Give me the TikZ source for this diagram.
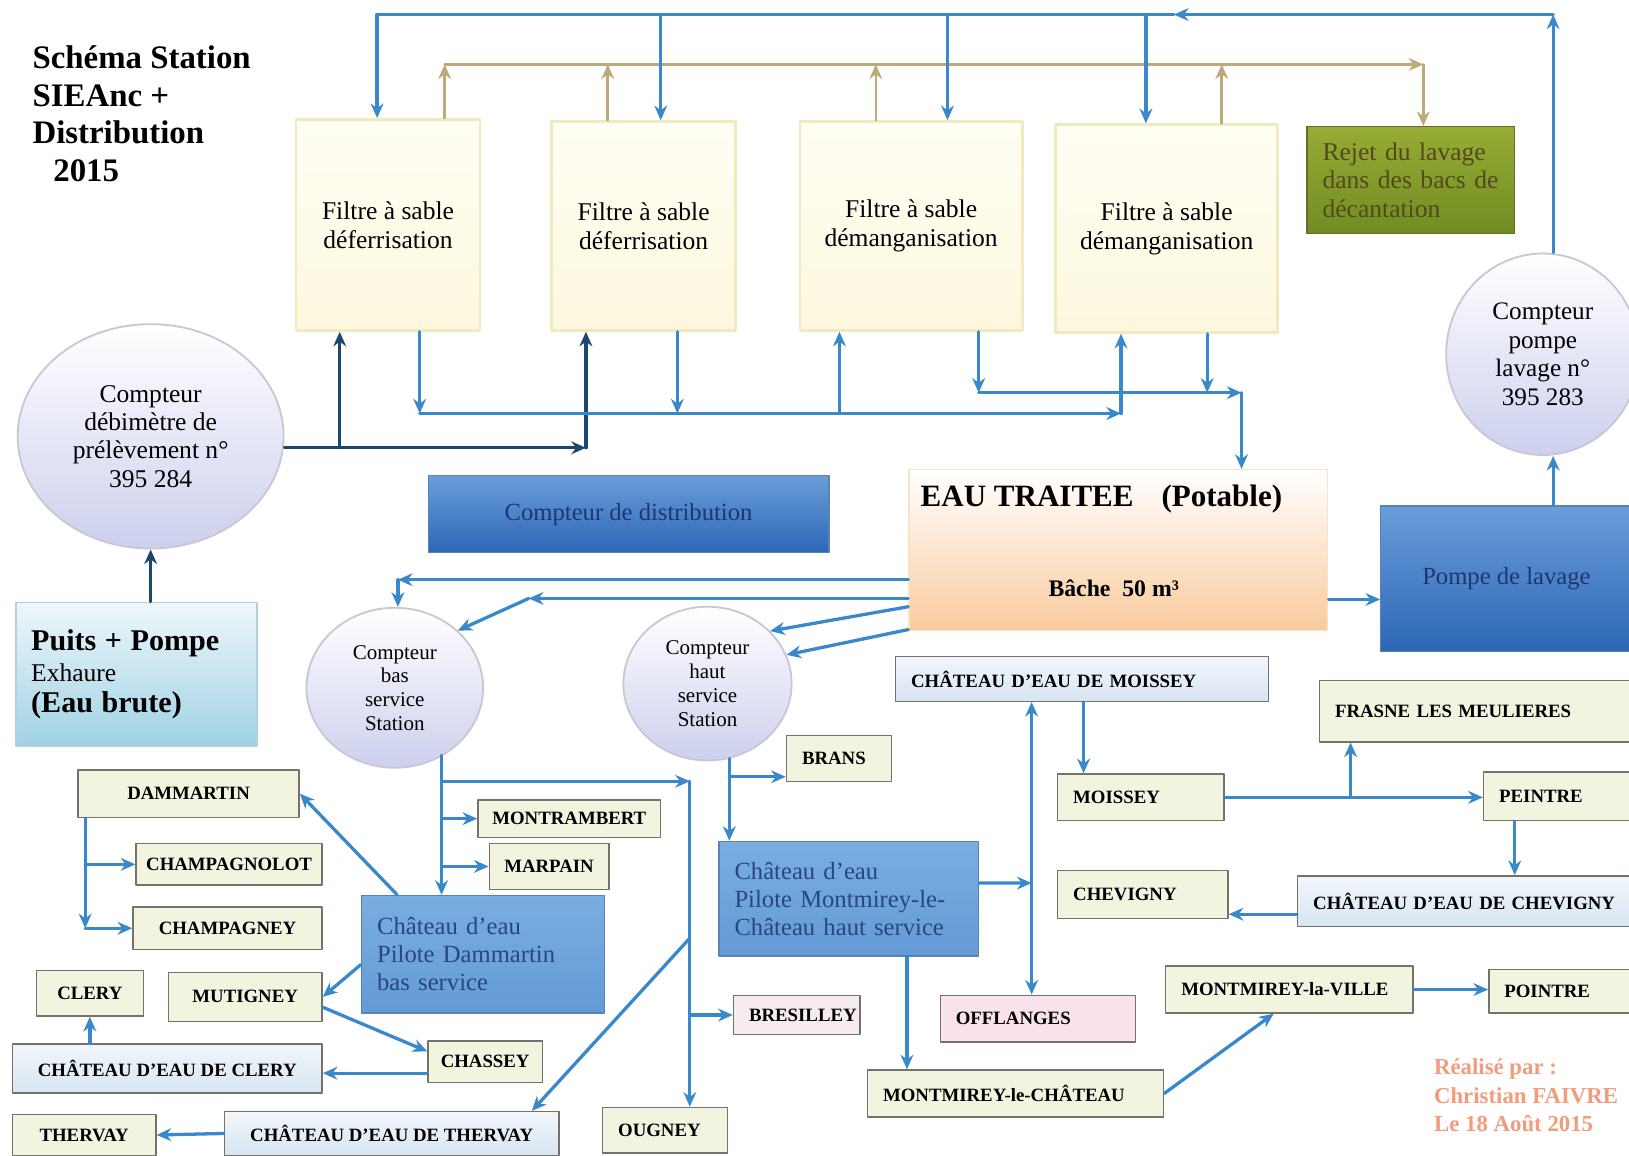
\documentclass[tikz,border=0pt]{standalone}
\usepackage{fontspec}
\setmainfont{Liberation Serif}
\usetikzlibrary{arrows.meta,shapes.geometric}

\begin{document}
\begin{tikzpicture}[x=0.02cm, y=-0.02cm, line cap=round, line join=round,
  >={Stealth[length=8pt,width=7pt]},
  pipe/.style={draw=pipeBlue, line width=1.8pt},
  raw/.style={draw=rawNavy, line width=1.8pt},
  wash/.style={draw=washTan, line width=1.4pt},
  gauche/.style={align=left, inner xsep=0.3cm, text width=#1},
  filtre/.style={draw=filtreBorder, line width=1.5pt, top color=filtreTop, bottom color=filtreBottom,
    align=center, font=\fontsize{14}{16}\selectfont},
  rejet/.style={draw=rejetBorder, line width=0.8pt, top color=rejetTop, bottom color=rejetBottom,
    inner sep=0pt, text=rejetText, font=\fontsize{14}{15.6}\selectfont},
  compteur/.style={ellipse, draw=compteurBorder, line width=1pt, top color=white, bottom color=compteurBottom,
    align=center, inner sep=1pt, font=\fontsize{14}{15.5}\selectfont},
  village/.style={draw=boxBorder, line width=0.8pt, fill=villageFill, inner sep=0pt,
    font=\fontsize{10.3}{12}\selectfont\bfseries},
  chateau/.style={village, top color=chateauTop, bottom color=chateauBottom},
  rose/.style={village, fill=roseFill},
  pilote/.style={draw=piloteBorder, line width=0.8pt, top color=piloteTop, bottom color=piloteBottom,
    inner sep=0pt, text=piloteText, font=\fontsize{13.5}{15.4}\selectfont},
  bleu/.style={draw=piloteBorder, line width=0.6pt, top color=bleuTop, bottom color=bleuBottom,
    text=bleuText, font=\fontsize{13.5}{15.5}\selectfont}]
% Colours of the station schema
\definecolor{pipeBlue}{RGB}{58,136,204}
\definecolor{rawNavy}{RGB}{28,72,112}
\definecolor{washTan}{RGB}{190,170,120}
\definecolor{filtreBorder}{RGB}{240,234,190}
\definecolor{filtreTop}{RGB}{255,254,244}
\definecolor{filtreBottom}{RGB}{252,248,222}
\definecolor{rejetBorder}{RGB}{100,110,40}
\definecolor{rejetTop}{RGB}{150,172,52}
\definecolor{rejetBottom}{RGB}{112,140,34}
\definecolor{rejetText}{RGB}{85,72,30}
\definecolor{compteurBorder}{RGB}{200,200,212}
\definecolor{compteurBottom}{RGB}{205,208,238}
\definecolor{boxBorder}{RGB}{115,115,105}
\definecolor{villageFill}{RGB}{243,244,224}
\definecolor{chateauTop}{RGB}{242,246,251}
\definecolor{chateauBottom}{RGB}{216,229,242}
\definecolor{roseFill}{RGB}{250,226,236}
\definecolor{bresFill}{RGB}{246,236,240}
\definecolor{piloteBorder}{RGB}{90,130,180}
\definecolor{piloteTop}{RGB}{120,174,224}
\definecolor{piloteBottom}{RGB}{100,155,215}
\definecolor{piloteText}{RGB}{40,70,130}
\definecolor{bleuTop}{RGB}{105,158,218}
\definecolor{bleuBottom}{RGB}{45,102,182}
\definecolor{bleuText}{RGB}{30,55,110}
\definecolor{puitsTop}{RGB}{238,247,251}
\definecolor{puitsBottom}{RGB}{160,210,228}
\definecolor{puitsBorder}{RGB}{175,210,225}
\definecolor{bacheBottom}{RGB}{249,203,158}
\definecolor{bacheBorder}{RGB}{245,228,200}
\definecolor{signColor}{RGB}{242,155,125}
\path[fill=white, use as bounding box] (0,0) rectangle (1568,1112);
% Title
\node[anchor=north west, inner sep=0pt, align=left, font=\fontsize{18}{20.5}\selectfont\bfseries] (titre) at (31,44)
  {Schéma Station\\SIEAnc +\\Distribution\\\hspace*{0.4cm}2015};
% Sand filters and wash discharge
\node[filtre, minimum width=3.54cm, minimum height=4.06cm] (f1) at (373.5,216.5) {Filtre à sable\\déferrisation};
\node[filtre, minimum width=3.54cm, minimum height=4.02cm] (f2) at (619.5,217.5) {Filtre à sable\\déferrisation};
\node[filtre, minimum width=4.28cm, minimum height=4.02cm] (f3) at (877,217.5) {Filtre à sable\\démanganisation};
\node[filtre, minimum width=4.28cm, minimum height=4.00cm] (f4) at (1123,220) {Filtre à sable\\démanganisation};
\node[rejet, gauche=3.4cm, minimum height=2.06cm] (rejet) at (1358,173.5) {Rejet du lavage\\dans des bacs de\\décantation};
% Counters
\node[compteur, minimum width=5.12cm, minimum height=4.32cm] (deb) at (145,420) {Compteur\\débimètre de\\prélèvement n°\\395 284};
\node[compteur, minimum width=3.72cm, minimum height=3.88cm, font=\fontsize{13.8}{15.8}\selectfont] (lav) at (1485,341) {Compteur\\pompe\\lavage n°\\395 283};
\node[compteur, minimum width=3.4cm, minimum height=3.08cm, font=\fontsize{11.5}{13}\selectfont] (cbas) at (380,662) {Compteur\\bas\\service\\Station};
\node[compteur, minimum width=3.24cm, minimum height=2.96cm, font=\fontsize{11.5}{13}\selectfont] (chaut) at (681,658) {Compteur\\haut\\service\\Station};
% Well, tank and pumps
\node[draw=puitsBorder, line width=1pt, top color=puitsTop, bottom color=puitsBottom, inner sep=0pt, gauche=4.04cm,
  minimum height=2.76cm, font=\fontsize{14}{17}\selectfont] (puits) at (131,649)
  {{\fontsize{16.5}{17}\selectfont\bfseries Puits + Pompe}\\Exhaure\\{\fontsize{16.5}{17}\selectfont\bfseries (Eau brute)}};
\node[bleu, minimum width=7.72cm, minimum height=1.48cm] (distrib) at (605,495) {Compteur de distribution};
\node[draw=bacheBorder, line width=0.8pt, top color=white, bottom color=bacheBottom, minimum width=8.06cm, minimum height=3.1cm] (eau) at (1076.5,529.5) {};
\node[anchor=west, font=\fontsize{17}{20}\selectfont\bfseries] (eautitre) at (880,480) {EAU TRAITEE\hspace{0.9em}(Potable)};
\node[font=\fontsize{13}{15}\selectfont\bfseries] (bachetxt) at (1072,566) {Bâche\hspace{0.5em}50 m³};
\node[bleu, minimum width=4.84cm, minimum height=2.8cm] (pompe) at (1450,557) {Pompe de lavage};
% Water towers and villages
\node[chateau, gauche=6.58cm, minimum height=0.86cm] (cmois) at (1041.5,653.5) {CHÂTEAU D'EAU DE MOISSEY};
\node[village, gauche=2.6cm, minimum height=0.9cm] (moissey) at (1098,767.5) {MOISSEY};
\node[village, gauche=5.5cm, minimum height=1.18cm] (frasne) at (1422.5,684.5) {FRASNE LES MEULIERES};
\node[village, gauche=2.34cm, minimum height=0.94cm] (peintre) at (1501.5,766.5) {PEINTRE};
\node[chateau, gauche=5.92cm, minimum height=0.98cm] (cchev) at (1412,867.5) {CHÂTEAU D'EAU DE CHEVIGNY};
\node[village, gauche=2.68cm, minimum height=0.92cm] (chevigny) at (1100,861) {CHEVIGNY};
\node[village, gauche=4.16cm, minimum height=0.9cm] (mlv) at (1241,952.5) {MONTMIREY-la-VILLE};
\node[village, gauche=2.24cm, minimum height=0.84cm] (pointre) at (1504,954) {POINTRE};
\node[rose, gauche=3.16cm, minimum height=0.9cm] (offl) at (999,980.5) {OFFLANGES};
\node[village, gauche=5.1cm, minimum height=0.9cm] (mlc) at (977.5,1052.5) {MONTMIREY-le-CHÂTEAU};
\node[pilote, gauche=4.4cm, minimum height=2.2cm] (pmont) at (817,865) {Château d'eau\\Pilote Montmirey-le-\\Château haut service};
\node[village, gauche=1.42cm, minimum height=0.88cm] (brans) at (807.5,730) {BRANS};
\node[rose, fill=bresFill, gauche=1.84cm, minimum height=0.76cm] (bres) at (767,977) {BRESILLEY};
\node[village, gauche=1.8cm, minimum height=0.88cm] (ougney) at (640,1088) {OUGNEY};
\node[village, minimum width=3.52cm, minimum height=0.72cm] (montr) at (548,788) {MONTRAMBERT};
\node[village, minimum width=2.3cm, minimum height=0.88cm] (marpain) at (528.5,834) {MARPAIN};
\node[pilote, gauche=4.08cm, minimum height=2.26cm] (pdam) at (465,918.5) {Château d'eau\\Pilote Dammartin\\bas service};
\node[village, minimum width=4.26cm, minimum height=0.92cm] (dammartin) at (181.5,764) {DAMMARTIN};
\node[village, minimum width=3.58cm, minimum height=0.8cm] (champagnolot) at (220.5,832) {CHAMPAGNOLOT};
\node[village, minimum width=3.64cm, minimum height=0.82cm] (champagney) at (219,893.5) {CHAMPAGNEY};
\node[village, minimum width=2.96cm, minimum height=0.94cm] (mutigney) at (236,959.5) {MUTIGNEY};
\node[village, minimum width=2.06cm, minimum height=0.88cm] (clery) at (86.5,956) {CLERY};
\node[chateau, minimum width=5.96cm, minimum height=0.94cm] (cclery) at (161,1028.5) {CHÂTEAU D'EAU DE CLERY};
\node[village, minimum width=2.2cm, minimum height=0.8cm] (chassey) at (467,1022) {CHASSEY};
\node[chateau, minimum width=6.44cm, minimum height=0.84cm] (ctherv) at (377,1091) {CHÂTEAU D'EAU DE THERVAY};
\node[village, minimum width=2.76cm, minimum height=0.78cm] (thervay) at (81,1092.5) {THERVAY};
% Signature
\node[anchor=north west, inner sep=0pt, align=left, text=signColor, font=\fontsize{12.5}{15.6}\selectfont\bfseries] (auteur) at (1380,1019)
  {Réalisé par :\\Christian FAIVRE\\Le 18 Août 2015};
% Junctions of the pipes
\coordinate (tw0) at (363,14);
\coordinate (tw2) at (636,14);
\coordinate (tw3) at (912,14);
\coordinate (tw5) at (1103,14);
\coordinate (twm) at (1130,14);
\coordinate (tw4) at (1495,14);
\coordinate (ww1) at (428,62);
\coordinate (ww2) at (585,62);
\coordinate (ww3) at (843,62);
\coordinate (ww4) at (1176,62);
\coordinate (ww5) at (1370,62);
\coordinate (rawB) at (327,431);
\coordinate (rawA) at (564,431);
\coordinate (fe1) at (404,398);
\coordinate (fe2) at (652,398);
\coordinate (fe3) at (808,398);
\coordinate (fe4) at (1079,398);
\coordinate (fm3) at (942,378);
\coordinate (fm4) at (1162,378);
\coordinate (fm5) at (1195,378);
\coordinate (bs1) at (383,558);
\coordinate (bs2) at (509,576);
\coordinate (bv) at (425,727);
\coordinate (bj1) at (425,752);
\coordinate (oug1) at (664,752);
\coordinate (oug2) at (664,903);
\coordinate (hv) at (702,730);
\coordinate (mv) at (993,850);
\coordinate (lmc) at (873,0);
\coordinate (lmo) at (1043,0);
\coordinate (lfr) at (1300,0);
\coordinate (lpe) at (1458,0);
\coordinate (ldam) at (82,0);
% Wash water to the settling tanks
\draw[wash,->] (ww1 |- f1.north) -- (ww1);
\draw[wash,->] (ww2 |- f2.north) -- (ww2);
\draw[wash,->] (ww3 |- f3.north) -- (ww3);
\draw[wash,->] (ww4 |- f4.north) -- (ww4);
\draw[wash,->] (ww1) -- (ww5);
\draw[wash,->] (ww5) -- (ww5 |- rejet.north);
% Wash water back to the filters
\draw[pipe,->] (lav.north -| tw4) -- (tw4);
\draw[pipe,->] (tw4) -- (twm);
\draw[pipe,->] (twm) -- (tw0) -- (tw0 |- f1.north);
\draw[pipe,->] (tw2) -- (tw2 |- f2.north);
\draw[pipe,->] (tw3) -- (tw3 |- f3.north);
\draw[pipe,->] (tw5) -- (tw5 |- f4.north);
% Raw water
\draw[raw,->] (puits.north -| deb.south) -- (deb.south);
\draw[raw,->] (deb.east |- rawA) -- (rawA);
\draw[raw,->] (rawA) -- (rawA |- f2.south);
\draw[raw,->] (rawB) -- (rawB |- f1.south);
% Filtered water
\draw[pipe,->] (fe1 |- f1.south) -- (fe1);
\draw[pipe,->] (fe2 |- f2.south) -- (fe2);
\draw[pipe,->] (fe1) -- (fe4);
\draw[pipe,->] (fe4) -- (fe4 |- f4.south);
\draw[pipe,->] (fe3) -- (fe3 |- f3.south);
\draw[pipe,->] (fm3 |- f3.south) -- (fm3);
\draw[pipe,->] (fm4 |- f4.south) -- (fm4);
\draw[pipe,->] (fm3) -- (fm5);
\draw[pipe,->] (fm5) -- (fm5 |- eau.north);
\draw[pipe,->] ([yshift=-0.95cm]eau.east) -- ([yshift=-0.95cm]eau.east -| pompe.west);
\draw[pipe,->] (pompe.north -| tw4) -- (lav.south -| tw4);
% Distribution from the tank
\draw[pipe,->] (eau.west |- bs1) -- (bs1);
\draw[pipe,->] (bs1) -- (bs1 |- cbas.north);
\draw[pipe,->] (eau.west |- bs2) -- (bs2);
\draw[pipe,->] (bs2) -- (cbas.north east);
\draw[pipe,->] ([yshift=-1.09cm]eau.west) -- (chaut.40);
\draw[pipe,->] ([yshift=-1.53cm]eau.west) -- (chaut.20);
% Low service
\draw[pipe,->] (bv) -- (bv |- pdam.north);
\draw[pipe,->] (bj1) -- (oug1);
\draw[pipe,->] (oug1) -- (oug1 |- ougney.north);
\draw[pipe,->] (montr.west -| bv) -- (montr.west);
\draw[pipe,->] (marpain.west -| bv) -- (marpain.west);
\draw[pipe,->] (bres.west -| oug1) -- (bres.west);
\draw[pipe,->] (oug2) -- ([xshift=2.7cm]ctherv.north);
\draw[pipe,->] ([xshift=0.7cm]pdam.north west) -- (dammartin.east);
\draw[pipe,->] (dammartin.south -| ldam) -- (champagney.west -| ldam);
\draw[pipe,->] (champagnolot.west -| ldam) -- (champagnolot.west);
\draw[pipe,->] (champagney.west -| ldam) -- (champagney.west);
\draw[pipe,->] ([yshift=-0.2cm]pdam.west) -- (mutigney.east);
\draw[pipe,->] ([yshift=-0.2cm]mutigney.east) -- ([yshift=0.2cm]chassey.west);
\draw[pipe,->] ([yshift=-0.22cm]chassey.west) -- ([yshift=-0.22cm]chassey.west -| cclery.east);
\draw[pipe,->] (clery.south |- cclery.north) -- (clery.south);
\draw[pipe,->] (ctherv.west) -- (thervay.east);
% High service
\draw[pipe,->] (hv) -- (hv |- pmont.north);
\draw[pipe,->] ([yshift=0.1cm]brans.south west -| hv) -- ([yshift=0.1cm]brans.south west);
\draw[pipe,->] ([yshift=0.3cm]pmont.east) -- (mv);
\draw[pipe,<->] (cmois.south -| mv) -- (offl.north -| mv);
\draw[pipe,->] (pmont.south -| lmc) -- (mlc.north -| lmc);
\draw[pipe,->] (mlc.east) -- ([xshift=-0.3cm]mlv.south);
\draw[pipe,->] (mlv.east) -- (mlv.east -| pointre.west);
\draw[pipe,->] (cmois.south -| lmo) -- (moissey.north -| lmo);
\draw[pipe,->] (moissey.east) -- (moissey.east -| peintre.west);
\draw[pipe,->] (moissey.east -| lfr) -- (frasne.south -| lfr);
\draw[pipe,->] (peintre.south -| lpe) -- (cchev.north -| lpe);
\draw[pipe,->] ([yshift=-0.25cm]cchev.west) -- ([yshift=-0.25cm]cchev.west -| chevigny.east);
\end{tikzpicture}
\end{document}
